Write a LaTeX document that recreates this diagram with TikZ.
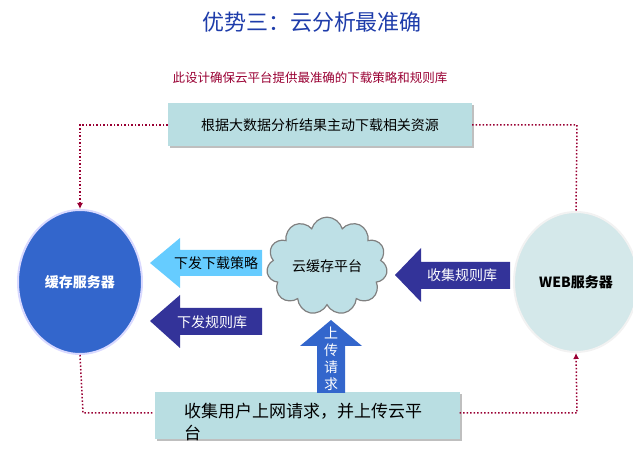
\documentclass[tikz,border=0pt]{standalone}
\usepackage{fontspec}
\setmainfont{Noto Sans CJK SC}
\usetikzlibrary{shapes.symbols,shapes.geometric,shadows,arrows.meta}
\definecolor{boxfill}{RGB}{185,222,226}
\definecolor{bluefill}{RGB}{51,102,204}
\definecolor{webfill}{RGB}{212,232,234}
\definecolor{cloudfill}{RGB}{190,224,230}
\definecolor{lightarrow}{RGB}{102,204,255}
\definecolor{navyarrow}{RGB}{51,51,153}
\definecolor{dotred}{RGB}{153,0,51}
\definecolor{titleblue}{RGB}{30,60,170}
\tikzset{
  textbox/.style={draw=none, fill=boxfill, drop shadow={shadow xshift=2pt, shadow yshift=-2pt, fill=gray}},
  dotline/.style={dotred, line width=1.5pt, dotted},
  dotarrow/.style={dotline, -{Latex[length=6pt,width=6pt]}},
  labeltext/.style={font=\fontsize{14}{16}\selectfont},
}
\begin{document}
\begin{tikzpicture}[x=1pt, y=-1pt]
    \useasboundingbox (0,0) rectangle (633,449);

    % Title and subtitle
    \node[text=titleblue, font=\fontsize{22}{26}\selectfont] (title) at (312,22) {优势三：云分析最准确};
    \node[text=dotred, font=\fontsize{12.5}{14}\selectfont] (sub) at (310,78) {此设计确保云平台提供最准确的下载策略和规则库};

    % Boxes
    \node[textbox, labeltext, minimum width=304pt, minimum height=43pt] (topbox) at (320,125)
        {根据大数据分析结果主动下载相关资源};
    \node[textbox, minimum width=305pt, minimum height=47pt] (botbox) at (307,416) {};
    \node[anchor=north west, align=left, font=\fontsize{17}{22}\selectfont, inner sep=0pt] (bottext) at (184,403)
        {收集用户上网请求，并上传云平\\台};

    % Servers
    \node[ellipse, fill=bluefill, draw=blue!15, line width=2pt, minimum width=124pt, minimum height=144pt,
          text=white, font=\bfseries\fontsize{14}{16}\selectfont] (cache) at (80,282) {缓存服务器};
    \node[ellipse, fill=webfill, draw=white!90!gray, line width=2pt, minimum width=124pt, minimum height=140pt,
          font=\bfseries\fontsize{14}{16}\selectfont] (web) at (576,282) {WEB服务器};

    % Cloud
    \node[cloud, cloud puffs=11, aspect=1.4, fill=cloudfill, draw=gray, line width=1.2pt, minimum width=120pt,
          minimum height=92pt, labeltext] (cloud) at (327,266) {云缓存平台};

    % Block arrows
    \fill[lightarrow] (150,263) -- (180,238) -- (180,250) -- (262,250) -- (262,276) -- (180,276) -- (180,288) -- cycle;
    \node[labeltext] (strategy) at (216,263) {下发下载策略};
    \fill[navyarrow] (150,321) -- (180,295) -- (180,308) -- (262,308) -- (262,335) -- (180,335) -- (180,348) -- cycle;
    \node[labeltext, text=white] (rules) at (212,322) {下发规则库};
    \fill[navyarrow] (395,275) -- (421,248) -- (421,262) -- (510,262) -- (510,289) -- (421,289) -- (421,302) -- cycle;
    \node[labeltext, text=white] (collect) at (462,275) {收集规则库};
    \fill[bluefill] (331,320) -- (362,346) -- (345,346) -- (345,393) -- (317,393) -- (317,346) -- (300,346) -- cycle;
    \node[align=center, text=white, font=\fontsize{14}{17}\selectfont] (upload) at (331,359) {上\\传\\请\\求};

    % Dotted connectors
    \coordinate (tl) at (80,125);
    \coordinate (tr) at (577,125);
    \coordinate (bl) at (83,413);
    \coordinate (br) at (577,413);
    \draw[dotarrow] (topbox.west) -- (tl) -- (cache.north);
    \draw[dotline] (topbox.east) -- (tr) -- (web.north);
    \draw[dotline] (cache.south) -- (bl) -- (botbox.west |- bl);
    \draw[dotarrow] (botbox.east |- br) -- (br) -- (web.south);
\end{tikzpicture}
\end{document}
